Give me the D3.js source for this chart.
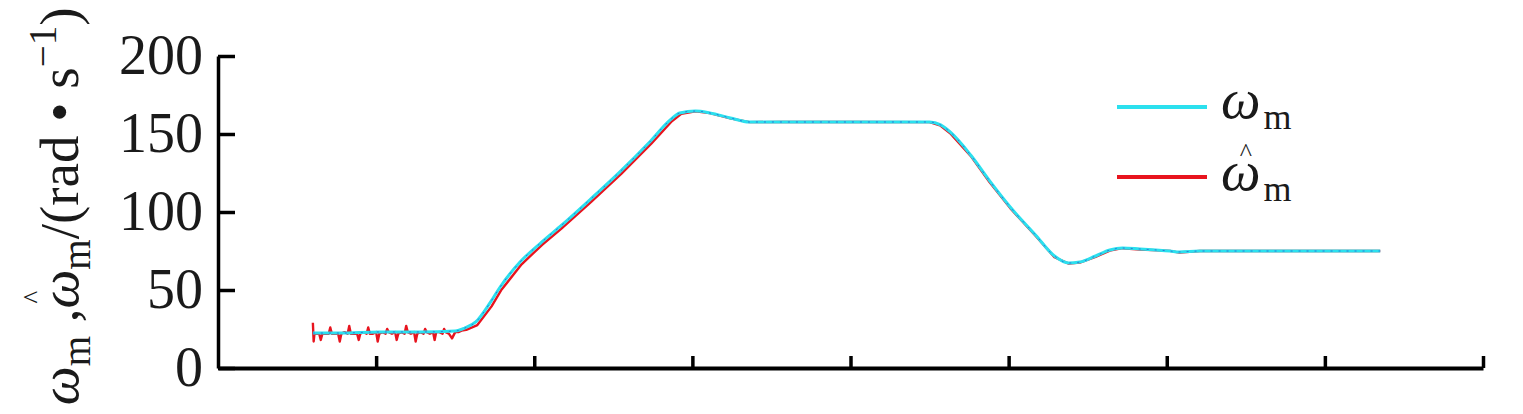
<!DOCTYPE html>
<html>
<head>
<meta charset="utf-8">
<script src="https://cdn.jsdelivr.net/npm/d3@7/dist/d3.min.js"></script>
<style>
  html, body { margin: 0; padding: 0; background: #fff; }
  svg { display: block; }
  text { font-family: "Liberation Serif", "Times New Roman", serif; fill: #1a1a1a; }
</style>
</head>
<body>
<svg id="chart" width="1523" height="414"></svg>
<script>
// ---- data ----
const yTicks = [0, 50, 100, 150, 200];
const xTicks = [1, 2, 3, 4, 5, 6, 7, 8];

// measured speed (omega_m)
const measT = [0.60, 0.77, 1.02, 1.28, 1.50, 1.56, 1.63, 1.72, 1.78, 1.91, 2.04, 2.16, 2.35, 2.54, 2.73, 2.86, 2.92, 3.02, 3.11, 3.24, 3.36, 3.55, 4.00, 4.50, 4.57, 4.63, 4.76, 4.88, 5.01, 5.17, 5.29, 5.38, 5.45, 5.55, 5.64, 5.72, 5.83, 6.02, 6.08, 6.21, 6.60, 7.00, 7.35];
const measV = [22.4, 22.4, 23.1, 23.1, 23.7, 25.6, 29.5, 41.7, 51.3, 67.9, 80.1, 90.4, 107.7, 125.6, 144.9, 159.0, 163.5, 164.7, 163.5, 160.3, 157.7, 157.7, 157.7, 157.7, 155.8, 151.3, 136.5, 119.9, 103.2, 85.3, 71.8, 67.3, 67.9, 71.8, 75.6, 76.9, 76.3, 75.0, 74.4, 75.0, 75.0, 75.0, 75.0];

// estimated speed (omega_m hat)
const estT = [0.60, 0.605, 0.61, 0.62, 0.64, 0.65, 0.66, 0.68, 0.70, 0.71, 0.72, 0.74, 0.76, 0.77, 0.78, 0.80, 0.82, 0.83, 0.84, 0.86, 0.88, 0.89, 0.90, 0.92, 0.94, 0.95, 0.96, 0.98, 1.00, 1.01, 1.02, 1.04, 1.06, 1.07, 1.08, 1.10, 1.12, 1.13, 1.14, 1.16, 1.18, 1.19, 1.20, 1.22, 1.24, 1.25, 1.26, 1.28, 1.30, 1.31, 1.32, 1.34, 1.36, 1.37, 1.38, 1.40, 1.42, 1.43, 1.44, 1.46, 1.48, 1.50, 1.52, 1.54,
  1.57, 1.64, 1.73, 1.79, 1.92, 2.05, 2.17, 2.36, 2.55, 2.74, 2.87, 2.93, 3.02, 3.11, 3.24, 3.36, 3.55, 4.00, 4.50, 4.57, 4.63, 4.76, 4.88, 5.01, 5.17, 5.29, 5.38, 5.45, 5.55, 5.64, 5.72, 5.83, 6.02, 6.08, 6.21, 6.60, 7.00, 7.35];
const estV = [29, 17, 22, 22, 22, 18, 22, 22, 22, 26, 22, 22, 22, 17, 22, 23, 22, 27, 22, 22, 22, 18, 22, 23, 22, 26, 22, 22, 23, 17, 22, 23, 22, 25, 23, 22, 23, 18, 22, 23, 22, 27, 23, 22, 23, 17, 22, 23, 22, 25, 23, 22, 23, 18, 23, 23, 22, 25, 23, 22, 19, 23, 23, 24,
  24.5, 27.5, 39.5, 49.8, 66.5, 79.0, 89.2, 106.5, 124.5, 143.8, 158.2, 163.0, 164.5, 163.4, 160.0, 157.6, 157.7, 157.7, 157.6, 155.3, 150.5, 136.0, 119.0, 102.5, 84.8, 71.0, 66.9, 67.6, 71.2, 75.3, 76.8, 76.0, 75.1, 74.0, 75.0, 75.0, 75.0, 75.0];

const legendItems = [
  { label: "ω", sub: "m", hat: false, color: "#2BE0EE" },
  { label: "ω", sub: "m", hat: true, color: "#E8141E" }
];

// ---- layout ----
const svg = d3.select("#chart");
const x = d3.scaleLinear().domain([0, 8]).range([218, 1483]);
const y = d3.scaleLinear().domain([0, 200]).range([368, 56]);

// axes
const yAxis = d3.axisLeft(y).tickValues(yTicks).tickSize(-17).tickSizeOuter(0).tickPadding(15);
const gy = svg.append("g").attr("transform", "translate(218,0)").call(yAxis);
gy.attr("font-family", null).attr("font-size", null);
gy.select(".domain").attr("stroke", "#000").attr("stroke-width", 3.5);
gy.selectAll(".tick line").attr("stroke", "#000").attr("stroke-width", 3.5);
gy.selectAll(".tick text").attr("font-size", 56).attr("fill", "#1a1a1a")
  .style("font-family", "'Liberation Serif', serif").attr("dy", "0.32em");

const xAxis = d3.axisBottom(x).tickValues(xTicks).tickSize(-12).tickSizeOuter(0).tickFormat("");
const gx = svg.append("g").attr("transform", "translate(0,368)").call(xAxis);
gx.select(".domain").attr("stroke", "#000").attr("stroke-width", 4);
gx.selectAll(".tick line").attr("stroke", "#000").attr("stroke-width", 3.5);

// lines
const est = estT.map((t, i) => [t, estV[i]]);
const meas = measT.map((t, i) => [t, measV[i]]);
const lineEst = d3.line().x(d => x(d[0])).y(d => y(d[1]));
const lineMeas = d3.line().x(d => x(d[0])).y(d => y(d[1])).curve(d3.curveMonotoneX);

svg.append("path").datum(est).attr("d", lineEst)
  .attr("fill", "none").attr("stroke", "#E8141E").attr("stroke-width", 2.4).attr("stroke-linejoin", "round");
svg.append("path").datum(meas).attr("d", lineMeas)
  .attr("fill", "none").attr("stroke", "#2BE0EE").attr("stroke-width", 3).attr("stroke-linejoin", "round");
svg.append("path").datum(meas).attr("d", lineMeas)
  .attr("fill", "none").attr("stroke", "#2626C8").attr("stroke-width", 1).attr("stroke-dasharray", "2,6").attr("opacity", 0.55);

// helper: omega with hat inside one text element
function hatOmega(textSel, omegaSize, hatSize, hatDy, hatShift, subSize, subDy, subDx) {
  const om = textSel.append("tspan").attr("font-style", "italic").attr("font-size", omegaSize).text("ω");
  const hat = textSel.append("tspan").attr("font-size", hatSize).text("^");
  const sub = textSel.append("tspan").attr("font-size", subSize).text("m");
  const ow = om.node().getComputedTextLength();
  const hw = hat.node().getComputedTextLength();
  hat.attr("dx", -(ow / 2 + hw / 2) + hatShift).attr("dy", hatDy);
  sub.attr("dx", (ow / 2 - hw / 2) - hatShift + subDx).attr("dy", -hatDy + subDy);
}

// legend
const lg = svg.append("g");
legendItems.forEach((it, i) => {
  const ly = 107 + i * 70;
  lg.append("line").attr("x1", 1117).attr("x2", 1207).attr("y1", ly).attr("y2", ly)
    .attr("stroke", it.color).attr("stroke-width", 4);
  const t = lg.append("text").attr("x", 1221).attr("y", ly + 11 + i * 2);
  if (it.hat) {
    hatOmega(t, 56, 26, -29, 5, 36, 11, 3);
  } else {
    t.append("tspan").attr("font-style", "italic").attr("font-size", 56).text(it.label);
    t.append("tspan").attr("font-size", 36).attr("dx", 3).attr("dy", 11).text(it.sub);
  }
});

// y-axis title (rotated)
const tg = svg.append("g").attr("transform", "translate(78,200) rotate(-90)");
const tt = tg.append("text").attr("font-size", 55);
tt.append("tspan").attr("font-style", "italic").text("ω");
tt.append("tspan").attr("font-size", 39).attr("dy", 12).text("m");
tt.append("tspan").attr("dy", -12).text(" ,");
hatOmega(tt, 55, 27, -36, -8, 39, 12, 0);
tt.append("tspan").attr("dy", -12).text("/(rad • s");
tt.append("tspan").attr("font-size", 39).attr("dy", -22).text("−1");
tt.append("tspan").attr("dy", 22).text(")");
// center the title along its axis
const tw = tt.node().getComputedTextLength();
tt.attr("x", -tw / 2);
</script>
</body>
</html>
